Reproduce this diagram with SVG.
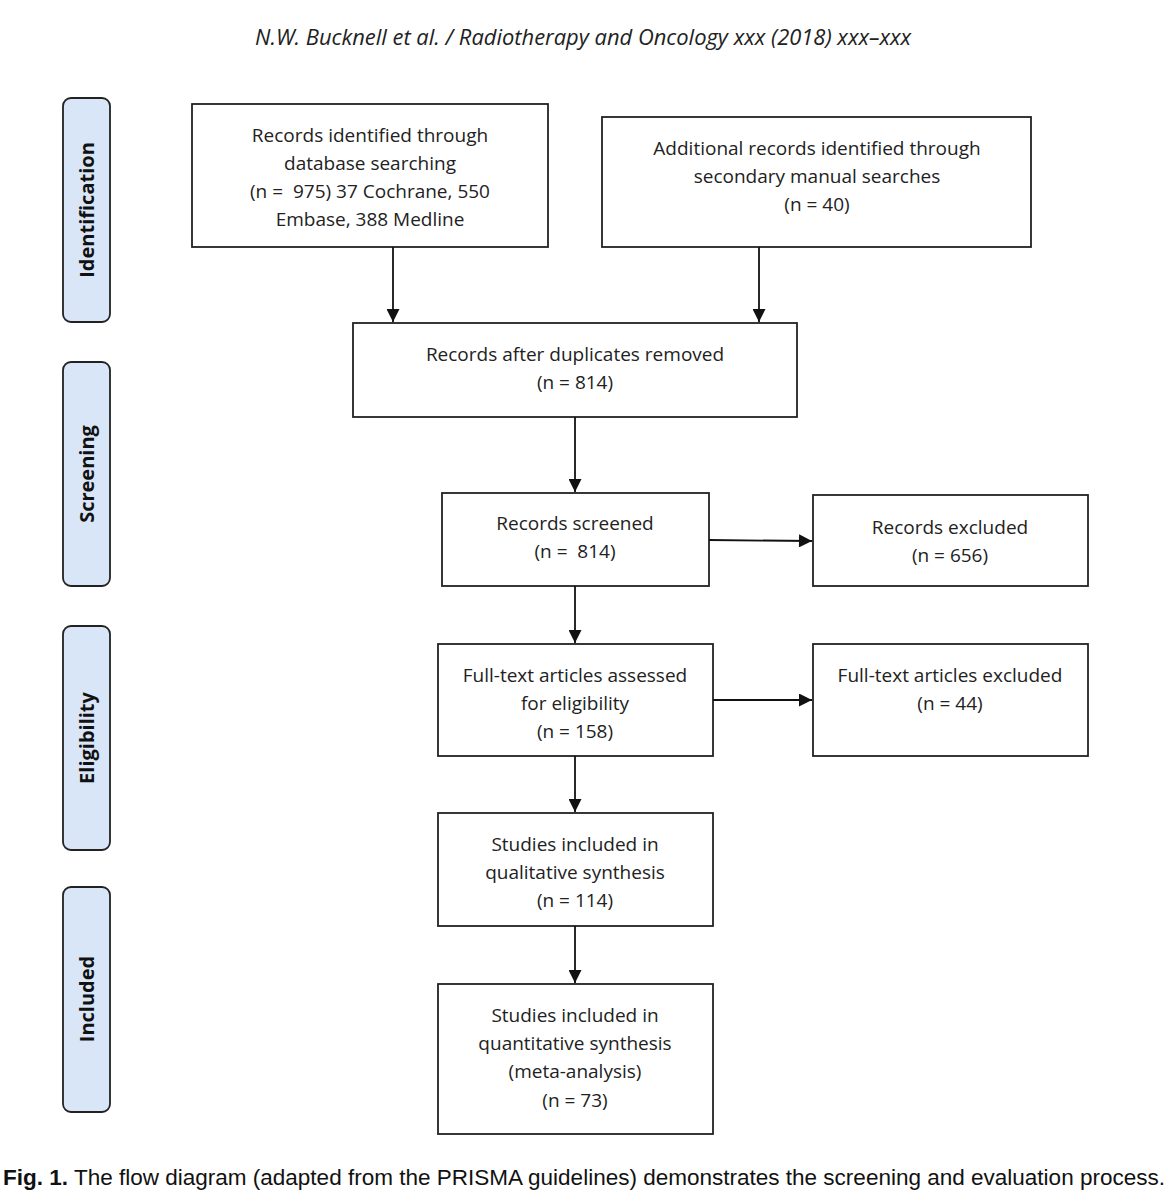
<svg xmlns="http://www.w3.org/2000/svg" width="1175" height="1200" viewBox="0 0 1175 1200">
<style>
.box{fill:#fff;stroke:#222;stroke-width:1.8}
.lane{fill:#d9e6f8;stroke:#222;stroke-width:1.8}
.t{font-family:"Open Sans","Liberation Sans",sans-serif;font-size:19px;fill:#222;text-anchor:middle}
.lt{font-family:"Open Sans","Liberation Sans",sans-serif;font-size:20px;font-weight:bold;fill:#111;text-anchor:middle}
.c{stroke:#111;stroke-width:1.8;fill:none;marker-end:url(#ah)}
</style>
<defs>
<marker id="ah" viewBox="0 0 10 10" refX="10" refY="5" markerWidth="15" markerHeight="13" markerUnits="userSpaceOnUse" orient="auto"><path d="M0,0 L10,5 L0,10 z" fill="#111"/></marker>
</defs>
<rect width="1175" height="1200" fill="#fff"/>
<text x="255" y="45" font-family="'Open Sans','Liberation Sans',sans-serif" font-style="italic" font-size="21" fill="#222" textLength="656" lengthAdjust="spacingAndGlyphs">N.W. Bucknell et al. / Radiotherapy and Oncology xxx (2018) xxx–xxx</text>

<g id="lane-identification"><rect class="lane" x="63" y="98" width="47" height="224" rx="8"/><text class="lt" transform="translate(94,210) rotate(-90)">Identification</text></g>
<g id="lane-screening"><rect class="lane" x="63" y="362" width="47" height="224" rx="8"/><text class="lt" transform="translate(94,474) rotate(-90)">Screening</text></g>
<g id="lane-eligibility"><rect class="lane" x="63" y="626" width="47" height="224" rx="8"/><text class="lt" transform="translate(94,738) rotate(-90)">Eligibility</text></g>
<g id="lane-included"><rect class="lane" x="63" y="887" width="47" height="225" rx="8"/><text class="lt" transform="translate(94,999) rotate(-90)">Included</text></g>

<g id="n-db"><rect class="box" x="192" y="104" width="356" height="143"/>
<text class="t" x="370" y="142">Records identified through</text>
<text class="t" x="370" y="170">database searching</text>
<text class="t" x="370" y="198">(n =&#160; 975) 37 Cochrane, 550</text>
<text class="t" x="370" y="226">Embase, 388 Medline</text></g>

<g id="n-add"><rect class="box" x="602" y="117" width="429" height="130"/>
<text class="t" x="817" y="155">Additional records identified through</text>
<text class="t" x="817" y="183">secondary manual searches</text>
<text class="t" x="817" y="211">(n = 40)</text></g>

<g id="n-dup"><rect class="box" x="353" y="323" width="444" height="94"/>
<text class="t" x="575" y="361">Records after duplicates removed</text>
<text class="t" x="575" y="389">(n = 814)</text></g>

<g id="n-screened"><rect class="box" x="442" y="493" width="267" height="93"/>
<text class="t" x="575" y="530">Records screened</text>
<text class="t" x="575" y="558">(n =&#160; 814)</text></g>

<g id="n-excluded"><rect class="box" x="813" y="495" width="275" height="91"/>
<text class="t" x="950" y="534">Records excluded</text>
<text class="t" x="950" y="562">(n = 656)</text></g>

<g id="n-fulltext"><rect class="box" x="438" y="644" width="275" height="112"/>
<text class="t" x="575" y="682">Full-text articles assessed</text>
<text class="t" x="575" y="710">for eligibility</text>
<text class="t" x="575" y="738">(n = 158)</text></g>

<g id="n-ftexcl"><rect class="box" x="813" y="644" width="275" height="112"/>
<text class="t" x="950" y="682">Full-text articles excluded</text>
<text class="t" x="950" y="710">(n = 44)</text></g>

<g id="n-qual"><rect class="box" x="438" y="813" width="275" height="113"/>
<text class="t" x="575" y="851">Studies included in</text>
<text class="t" x="575" y="879">qualitative synthesis</text>
<text class="t" x="575" y="907">(n = 114)</text></g>

<g id="n-quant"><rect class="box" x="438" y="984" width="275" height="150"/>
<text class="t" x="575" y="1022">Studies included in</text>
<text class="t" x="575" y="1050">quantitative synthesis</text>
<text class="t" x="575" y="1078">(meta-analysis)</text>
<text class="t" x="575" y="1107">(n = 73)</text></g>

<g id="connectors">
<line class="c" x1="393" y1="247" x2="393" y2="322"/>
<line class="c" x1="759" y1="247" x2="759" y2="322"/>
<line class="c" x1="575" y1="417" x2="575" y2="492"/>
<line class="c" x1="709" y1="540" x2="812" y2="541"/>
<line class="c" x1="575" y1="586" x2="575" y2="643"/>
<line class="c" x1="713" y1="700" x2="812" y2="700"/>
<line class="c" x1="575" y1="756" x2="575" y2="812"/>
<line class="c" x1="575" y1="926" x2="575" y2="983"/>
</g>

<text x="3" y="1185" font-family="'Liberation Sans',sans-serif" font-size="22" fill="#111" textLength="1162" lengthAdjust="spacingAndGlyphs"><tspan font-weight="bold">Fig. 1.</tspan> The flow diagram (adapted from the PRISMA guidelines) demonstrates the screening and evaluation process.</text>
</svg>
